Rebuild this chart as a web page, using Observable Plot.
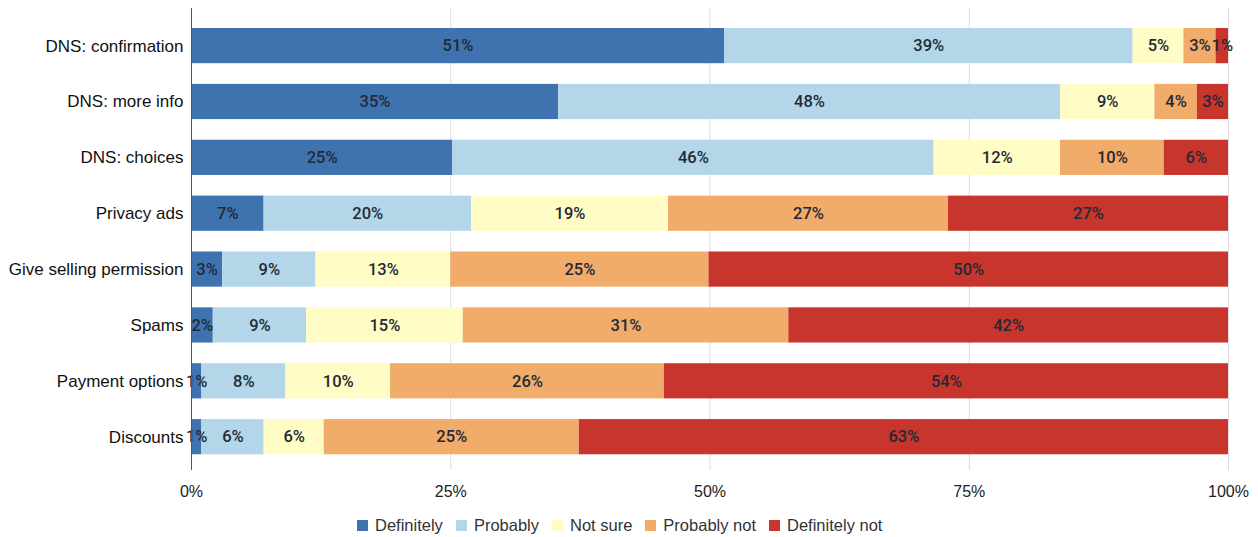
<!DOCTYPE html>
<html>
<head>
<meta charset="utf-8">
<script src="https://cdn.jsdelivr.net/npm/d3@7"></script>
<script src="https://cdn.jsdelivr.net/npm/@observablehq/plot@0.6"></script>
<style>
  body { margin: 0; background: #fff; font-family: "Liberation Sans", Arial, sans-serif; }
  #legend { display: flex; justify-content: flex-start; gap: 13px; font-size: 16.5px; line-height: 20px; color: #333; margin-top: 10px; padding-left: 357px; }
  #legend span.item { display: inline-flex; align-items: center; }
  #legend span.sw { display: inline-block; width: 11px; height: 11px; margin-right: 7px; }
</style>
</head>
<body>
<div id="chart"></div>
<div id="legend"></div>
<script>
const questions = ["DNS: confirmation", "DNS: more info", "DNS: choices", "Privacy ads", "Give selling permission", "Spams", "Payment options", "Discounts"];
const responses = ["Definitely", "Probably", "Not sure", "Probably not", "Definitely not"];
const definitely    = [51.4, 35.4, 25.2, 7.0, 3.0, 2.1, 1.0, 1.0];
const probably      = [39.4, 48.4, 46.4, 20.0, 9.0, 9.0, 8.1, 6.0];
const notSure       = [4.9, 9.1, 12.2, 19.0, 13.0, 15.1, 10.1, 5.8];
const probablyNot   = [3.1, 4.1, 10.0, 27.0, 24.9, 31.4, 26.4, 24.6];
const definitelyNot = [1.2, 3.0, 6.2, 27.0, 50.1, 42.4, 54.4, 62.6];
const colors = ["#3e73af", "#b3d7e8", "#fffcc6", "#f1ab6b", "#c8352d"];
const xTicks = [0, 25, 50, 75, 100];

const series = [definitely, probably, notSure, probablyNot, definitelyNot];
const data = [];
questions.forEach((q, i) => {
  responses.forEach((r, j) => data.push({question: q, response: r, value: series[j][i]}));
});

const chart = Plot.plot({
  width: 1258,
  height: 505,
  marginLeft: 191,
  marginRight: 30,
  marginTop: 8,
  marginBottom: 35,
  style: {fontFamily: "'Liberation Sans', Arial, sans-serif", fontSize: "16px", color: "#222"},
  x: {domain: [0, 100], ticks: xTicks, tickFormat: d => d + "%", tickSize: 0, tickPadding: 15, label: null},
  y: {domain: questions, paddingInner: 0.37, paddingOuter: 0.32, align: 0.56, round: false, tickSize: 0, tickPadding: 8, label: null},
  color: {domain: responses, range: colors},
  marks: [
    Plot.ruleX(xTicks.slice(1), {stroke: "#dcdcdc", strokeWidth: 1}),
    Plot.barX(data, Plot.stackX({x: "value", y: "question", fill: "response", z: "response", order: responses})),
    Plot.text(data, Plot.stackX({x: "value", y: "question", z: "response", order: responses,
      text: d => Math.round(d.value) + "%", fill: "#222a35", fontSize: 16.5, fontWeight: 500,
      fontFamily: "Roboto, 'Liberation Sans', sans-serif"})),
    Plot.ruleX([0], {stroke: "#555", strokeWidth: 1}),
    Plot.axisY({tickSize: 0, tickPadding: 8, fill: "#111", fontSize: 17}),
    Plot.axisX({ticks: xTicks, tickFormat: d => d + "%", tickSize: 0, tickPadding: 15, fill: "#222", fontSize: 16})
  ]
});
document.getElementById("chart").appendChild(chart);

const legend = document.getElementById("legend");
responses.forEach((r, i) => {
  const item = document.createElement("span");
  item.className = "item";
  const sw = document.createElement("span");
  sw.className = "sw";
  sw.style.background = colors[i];
  item.appendChild(sw);
  item.appendChild(document.createTextNode(r));
  legend.appendChild(item);
});
</script>
</body>
</html>
